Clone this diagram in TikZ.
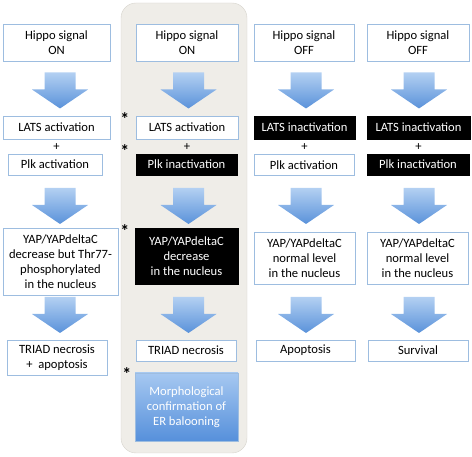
\documentclass[tikz,border=0pt]{standalone}
\usepackage{fontspec}
\setmainfont{Carlito}
\usetikzlibrary{calc,positioning}

\definecolor{boxblue}{HTML}{9DBDE0}
\definecolor{paneltan}{HTML}{EFEDE8}
\definecolor{panelline}{HTML}{D6D3CC}
\definecolor{arrowtop}{HTML}{B3D0F2}
\definecolor{arrowbot}{HTML}{5A92DA}
\definecolor{morphtop}{HTML}{A6C8F1}
\definecolor{morphbot}{HTML}{5690DB}

\tikzset{
  box/.style={draw=boxblue, fill=white, align=center, inner sep=0pt,
    font=\fontsize{12.6}{15}\selectfont},
  darkbox/.style={box, draw=black, fill=black, text=white},
  morphbox/.style={box, draw=boxblue, top color=morphtop, bottom color=morphbot, text=white},
  sz/.style 2 args={minimum width=#1pt, minimum height=#2pt},
  plus/.style={inner sep=0pt, font=\fontsize{12.6}{14}\selectfont},
  star/.style={inner sep=0pt, font=\fontsize{18}{18}\selectfont\bfseries},
  bigarrow/.style={top color=arrowtop, bottom color=arrowbot},
}

\newcommand\downblock[1]{%
  \shade[bigarrow] ($(#1)+(-15.5,-18)$) -- ($(#1)+(15.5,-18)$) -- ($(#1)+(15.5,-1)$)
    -- ($(#1)+(28,-1)$) -- ($(#1)+(0,18)$) -- ($(#1)+(-28,-1)$) -- ($(#1)+(-15.5,-1)$) -- cycle;}

\begin{document}
\begin{tikzpicture}[x=1pt,y=-1pt]
\useasboundingbox (0,0) rectangle (472,457);

\draw[draw=panelline, fill=paneltan, rounded corners=15pt] (121,3) rectangle (247,453);

\node[box, sz={107}{37}] (h1) at (56.5,42.5) {Hippo signal\\ON};
\node[box, sz={102}{37}] (h2) at (187,42.5) {Hippo signal\\ON};
\node[box, sz={100}{37}] (h3) at (304,42.5) {Hippo signal\\OFF};
\node[box, sz={102}{37}] (h4) at (418,42.5) {Hippo signal\\OFF};

\node[box, sz={107}{23}] (l1) at (56.5,127.5) {LATS activation};
\node[box, sz={102}{23}] (l2) at (187,127.5) {LATS activation};
\node[darkbox, sz={101}{23}] (l3) at (304.5,127.5) {LATS inactivation};
\node[darkbox, sz={103}{23}] (l4) at (418.5,127.5) {LATS inactivation};

\node[plus] (s1) at (56.5,147) {+};
\node[plus] (s2) at (187,147) {+};
\node[plus] (s3) at (304.5,147) {+};
\node[plus] (s4) at (418.5,147) {+};

\node[box, sz={94}{21}] (p1) at (55,164.5) {Plk activation};
\node[darkbox, sz={101}{21}] (p2) at (186.5,164.5) {Plk inactivation};
\node[box, sz={100}{21}] (p3) at (304,165) {Plk activation};
\node[darkbox, sz={102}{21}] (p4) at (418,164.5) {Plk inactivation};

\node[box, sz={115}{67}] (y1) at (60.5,261.5) {YAP/YAPdeltaC\\decrease but Thr77-\\phosphorylated\\in the nucleus};
\node[darkbox, sz={103}{56}] (y2) at (186.5,256) {YAP/YAPdeltaC\\decrease\\in the nucleus};
\node[box, sz={101}{52}] (y3) at (304.5,258) {YAP/YAPdeltaC\\normal level\\in the nucleus};
\node[box, sz={101}{52}] (y4) at (417.5,258) {YAP/YAPdeltaC\\normal level\\in the nucleus};

\node[box, sz={100}{35}] (o1) at (57,357.5) {TRIAD necrosis\\+\ \ apoptosis};
\node[box, sz={100}{21}] (o2) at (186,350.5) {TRIAD necrosis};
\node[box, sz={99}{21}] (o3) at (305.5,350.5) {Apoptosis};
\node[box, sz={100}{21}] (o4) at (418,350.5) {Survival};

\node[morphbox, sz={103}{68}] (m2) at (186.5,407) {Morphological\\confirmation of\\ER balooning};

\node[star] (st1) at ($(l2.north west)+(-11,3)$) {*};
\node[star] (st2) at ($(p2.north west)+(-11,-3)$) {*};
\node[star] (st3) at ($(y2.north west)+(-10,3)$) {*};
\node[star] (st4) at ($(m2.north west)+(-8,1)$) {*};

\coordinate (a11) at (60,90.5);
\coordinate (a12) at (188.5,90.5);
\coordinate (a13) at (306,90.5);
\coordinate (a14) at (419,90.5);
\coordinate (a21) at (60,206);
\coordinate (a22) at (188.5,206);
\coordinate (a23) at (306,206);
\coordinate (a24) at (419,206);
\coordinate (a31) at (60,315);
\coordinate (a32) at (188.5,315);
\coordinate (a33) at (306,315);
\coordinate (a34) at (419,315);

\foreach \r in {1,2,3}{
  \foreach \c in {1,2,3,4}{
    \downblock{a\r\c}
  }
}
\end{tikzpicture}
\end{document}
